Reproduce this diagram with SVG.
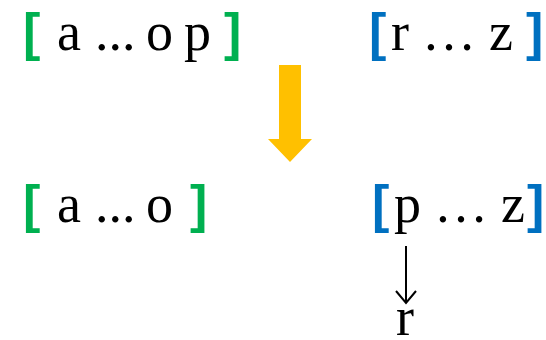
<svg xmlns="http://www.w3.org/2000/svg" width="546" height="340" viewBox="0 0 546 340">
  <style>
    .t { font-family: "Liberation Serif", "Times New Roman", serif; font-size: 54px; fill: #000; }
    .br { font-family: "Liberation Sans", Arial, sans-serif; font-weight: bold; font-size: 52px; }
    .g { fill: #00B050; }
    .b { fill: #0070C0; }
    .ptr { stroke: #000; stroke-width: 2; fill: none; }
  </style>
  <rect width="546" height="340" fill="#fff"/>

  <!-- before: left list -->
  <g id="top-left">
    <text class="br g" x="23" y="50">[</text>
    <text class="t" y="50"><tspan x="57">a</tspan><tspan x="95">...</tspan><tspan x="146">o</tspan><tspan x="184">p</tspan></text>
    <text class="br g" x="224" y="50">]</text>
  </g>

  <!-- before: right list -->
  <g id="top-right">
    <text class="br b" x="369" y="50">[</text>
    <text class="t" y="50"><tspan x="391">r</tspan><tspan x="422">…</tspan><tspan x="489">z</tspan></text>
    <text class="br b" x="526" y="50">]</text>
  </g>

  <!-- after: left list -->
  <g id="bottom-left">
    <text class="br g" x="23" y="222">[</text>
    <text class="t" y="222"><tspan x="57">a</tspan><tspan x="95">...</tspan><tspan x="146">o</tspan></text>
    <text class="br g" x="190" y="222">]</text>
  </g>

  <!-- after: right list -->
  <g id="bottom-right">
    <text class="br b" x="372" y="222">[</text>
    <text class="t" y="222"><tspan x="394">p</tspan><tspan x="434">…</tspan><tspan x="501">z</tspan></text>
    <text class="br b" x="527" y="222">]</text>
  </g>

  <g id="r-label">
    <text class="t" x="396" y="335">r</text>
  </g>

  <g id="connectors">
    <!-- transition arrow -->
    <polygon fill="#FFC000" points="279,65 301,65 301,139 312,139 290,162 268,139 279,139"/>
    <!-- pointer from p to r -->
    <line class="ptr" x1="406" y1="246" x2="406" y2="302"/>
    <polyline class="ptr" points="396,291 406,303 416,291"/>
  </g>
</svg>
